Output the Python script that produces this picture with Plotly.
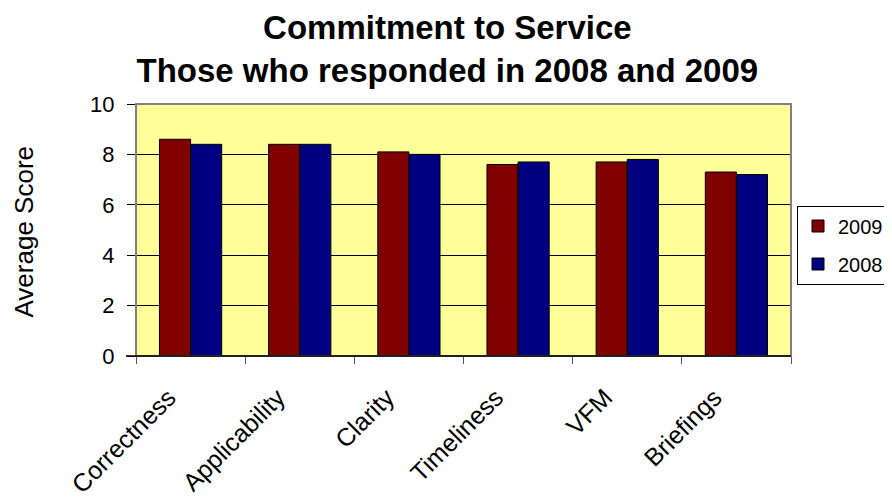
import plotly.graph_objects as go

categories = ["Correctness", "Applicability", "Clarity", "Timeliness", "VFM", "Briefings"]
scores_2009 = [8.6, 8.4, 8.1, 7.6, 7.7, 7.3]
scores_2008 = [8.4, 8.4, 8.0, 7.7, 7.8, 7.2]
y_ticks = [0, 2, 4, 6, 8, 10]

fig = go.Figure()
fig.add_trace(go.Bar(name="2009", x=categories, y=scores_2009, legendgroup="g2009",
                     marker=dict(color="#800000", line=dict(color="#000000", width=1))))
fig.add_trace(go.Bar(name="2008", x=categories, y=scores_2008, legendgroup="g2008",
                     marker=dict(color="#000080", line=dict(color="#000000", width=1))))

font_family = "Liberation Sans, Arial, sans-serif"
W, H = 884, 493
PL, PR, PT, PB = 128, 101, 96, 145
PW, PH = W - PL - PR, H - PT - PB
fig.update_layout(
    width=W, height=H,
    margin=dict(l=PL, r=PR, t=PT, b=PB, autoexpand=False),
    paper_bgcolor="white",
    plot_bgcolor="#FFFF99",
    barmode="group",
    bargap=0.43,
    bargroupgap=0,
    font=dict(family=font_family, color="black"),
    title=dict(text="<b>Commitment to Service<br>Those who responded in 2008 and 2009</b>",
               x=0.497, xref="container", xanchor="center",
               y=1 - 31 / H, yref="container", yanchor="middle",
               font=dict(size=33, family=font_family, color="black")),
    showlegend=True,
    legend=dict(x=(789 - PL) / PW, xanchor="left", y=(PT + PH - 237) / PH, yanchor="middle",
                bordercolor="black", borderwidth=1, bgcolor="white",
                font=dict(size=20, family=font_family), traceorder="grouped",
                itemwidth=30, tracegroupgap=9),
    xaxis=dict(tickangle=-45, tickfont=dict(size=25), ticks="outside", tickson="boundaries",
               ticklen=7, tickcolor="#555555", showline=True, linecolor="black", linewidth=1,
               mirror=False, showgrid=False, ticklabelstandoff=16, ticklabelshift=-22),
    yaxis=dict(range=[0, 10], tickvals=y_ticks, tickfont=dict(size=22), ticks="outside",
               ticklen=8, tickcolor="black", showline=True, linecolor="#808080", linewidth=1,
               showgrid=True, gridcolor="black", gridwidth=1, zeroline=False,
               ticklabelstandoff=8),
    shapes=[dict(type="rect", xref="paper", yref="paper", x0=0, y0=0, x1=1, y1=1,
                 line=dict(color="#808080", width=2), layer="above"),
            dict(type="line", xref="paper", yref="paper", x0=-10 / PW, y0=0, x1=1, y1=0,
                 line=dict(color="black", width=1.5), layer="above")],
    annotations=[dict(text="Average Score", textangle=-90, xref="paper", yref="paper",
                      x=(15 - PL) / PW, y=(PT + PH - 223.5) / PH, xanchor="center", yanchor="middle",
                      showarrow=False, font=dict(size=26, family=font_family, color="black"))],
)

fig.write_html("out.html")
